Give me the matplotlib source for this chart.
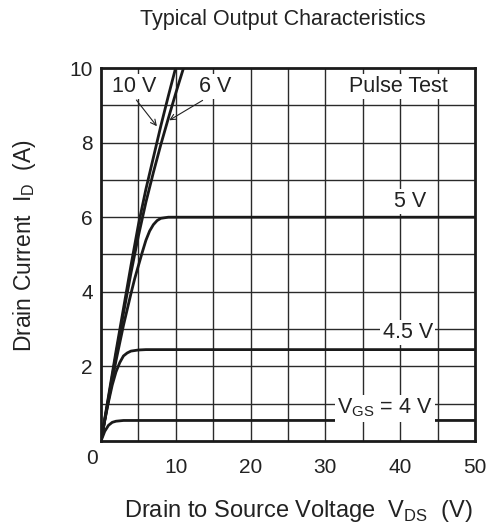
import matplotlib
matplotlib.use("Agg")
import matplotlib.pyplot as plt

plt.rcParams['font.family'] = ['Liberation Sans', 'DejaVu Sans']

# Data
v_10 = [0, 1, 2, 3, 4, 5, 6, 7, 8, 9, 10, 10.5]
i_10 = [0, 1.2, 2.4, 3.55, 4.7, 5.8, 6.75, 7.6, 8.45, 9.25, 10.02, 10.4]

v_6 = [0, 1, 2, 3, 4, 5, 6, 7, 8, 9, 10, 11, 11.5]
i_6 = [0, 1.15, 2.3, 3.42, 4.5, 5.5, 6.4, 7.2, 7.95, 8.65, 9.33, 9.98, 10.3]

v_5 = [0, 1, 2, 3, 4, 4.5, 5, 5.5, 6, 6.5, 7, 7.5, 8, 9, 10, 50]
i_5 = [0, 1.1, 2.15, 3.1, 3.95, 4.35, 4.7, 5.05, 5.38, 5.63, 5.8, 5.91, 5.97, 6.0, 6.0, 6.0]

v_45 = [0, 0.5, 1, 1.5, 2, 2.5, 3, 3.5, 4, 5, 6, 50]
i_45 = [0, 0.55, 1.05, 1.5, 1.85, 2.1, 2.28, 2.36, 2.41, 2.44, 2.45, 2.45]

v_4 = [0, 0.5, 1, 1.5, 2, 3, 4, 50]
i_4 = [0, 0.26, 0.42, 0.5, 0.53, 0.55, 0.55, 0.55]

x_ticks = [10, 20, 30, 40, 50]
y_ticks = [2, 4, 6, 8, 10]

fig = plt.figure(figsize=(4.93, 5.28), dpi=100)
ax = fig.add_axes([0.2049, 0.1648, 0.7586, 0.7064])

ax.set_xlim(0, 50)
ax.set_ylim(0, 10)

# grid
for gx in range(5, 50, 5):
    ax.axvline(gx, color='#2a2a2a', lw=1.0, zorder=1)
for gy in range(1, 10):
    ax.axhline(gy, color='#2a2a2a', lw=1.0, zorder=1)

lw = 2.0
col = '#1a1a1a'
ax.plot(v_10, i_10, color=col, lw=lw, zorder=3, solid_capstyle='butt')
ax.plot(v_6, i_6, color=col, lw=lw, zorder=3, solid_capstyle='butt')
ax.plot(v_5, i_5, color=col, lw=lw, zorder=3)
ax.plot(v_45, i_45, color=col, lw=lw, zorder=3)
ax.plot(v_4, i_4, color=col, lw=lw, zorder=3)

fs = 15.5
tfs = 15
ax.set_xticks(x_ticks)
ax.set_yticks(y_ticks)
ax.set_xticklabels([str(t) for t in x_ticks])
ax.set_yticklabels([str(t) for t in y_ticks])
ax.tick_params(axis='both', length=0, labelsize=tfs, colors='#222222')
ax.tick_params(axis='x', pad=12)
ax.tick_params(axis='y', pad=6)

for sp in ax.spines.values():
    sp.set_linewidth(2.0)
    sp.set_color('#1a1a1a')
    sp.set_zorder(5)

bbox = dict(facecolor='white', edgecolor='none', pad=1.5)
tc = '#222222'
ax.text(4.4, 9.5, '10 V', fontsize=fs, ha='center', va='center', bbox=bbox, zorder=4, color=tc)
ax.text(15.2, 9.5, '6 V', fontsize=fs, ha='center', va='center', bbox=bbox, zorder=4, color=tc)
ax.text(39.7, 9.5, 'Pulse Test', fontsize=fs, ha='center', va='center', bbox=bbox, zorder=4, color=tc)
ax.text(41.3, 6.42, '5 V', fontsize=fs, ha='center', va='center', bbox=bbox, zorder=4, color=tc)
ax.text(41.0, 2.9, '4.5 V', fontsize=fs, ha='center', va='center', bbox=bbox, zorder=4, color=tc)
ax.text(38.0, 0.88, r'V$_{\mathregular{GS}}$ = 4 V', fontsize=fs, ha='center', va='center', bbox=bbox, zorder=4, color=tc)

ax.annotate('', xy=(7.7, 8.38), xytext=(4.5, 9.2),
            arrowprops=dict(arrowstyle='->', color=tc, lw=0.8), zorder=4)
ax.annotate('', xy=(8.8, 8.56), xytext=(13.9, 9.17),
            arrowprops=dict(arrowstyle='->', color=tc, lw=0.8), zorder=4)

fig.text(92 / 493, 1 - 459 / 528, '0', fontsize=tfs, ha='center', va='center', color=tc)

fig.text(283 / 493, 1 - 19 / 528, 'Typical Output Characteristics', fontsize=15.5,
         ha='center', va='center', color=tc)
fig.text(25 / 493, 1 - 246 / 528, r'Drain Current  I$_{\mathregular{D}}$  (A)', fontsize=16.5,
         ha='center', va='center', rotation=90, color=tc)
fig.text(298 / 493, 1 - 511 / 528, r'Drain to Source Voltage  V$_{\mathregular{DS}}$  (V)', fontsize=17,
         ha='center', va='center', color=tc)

fig.savefig('out.png', dpi=100)
